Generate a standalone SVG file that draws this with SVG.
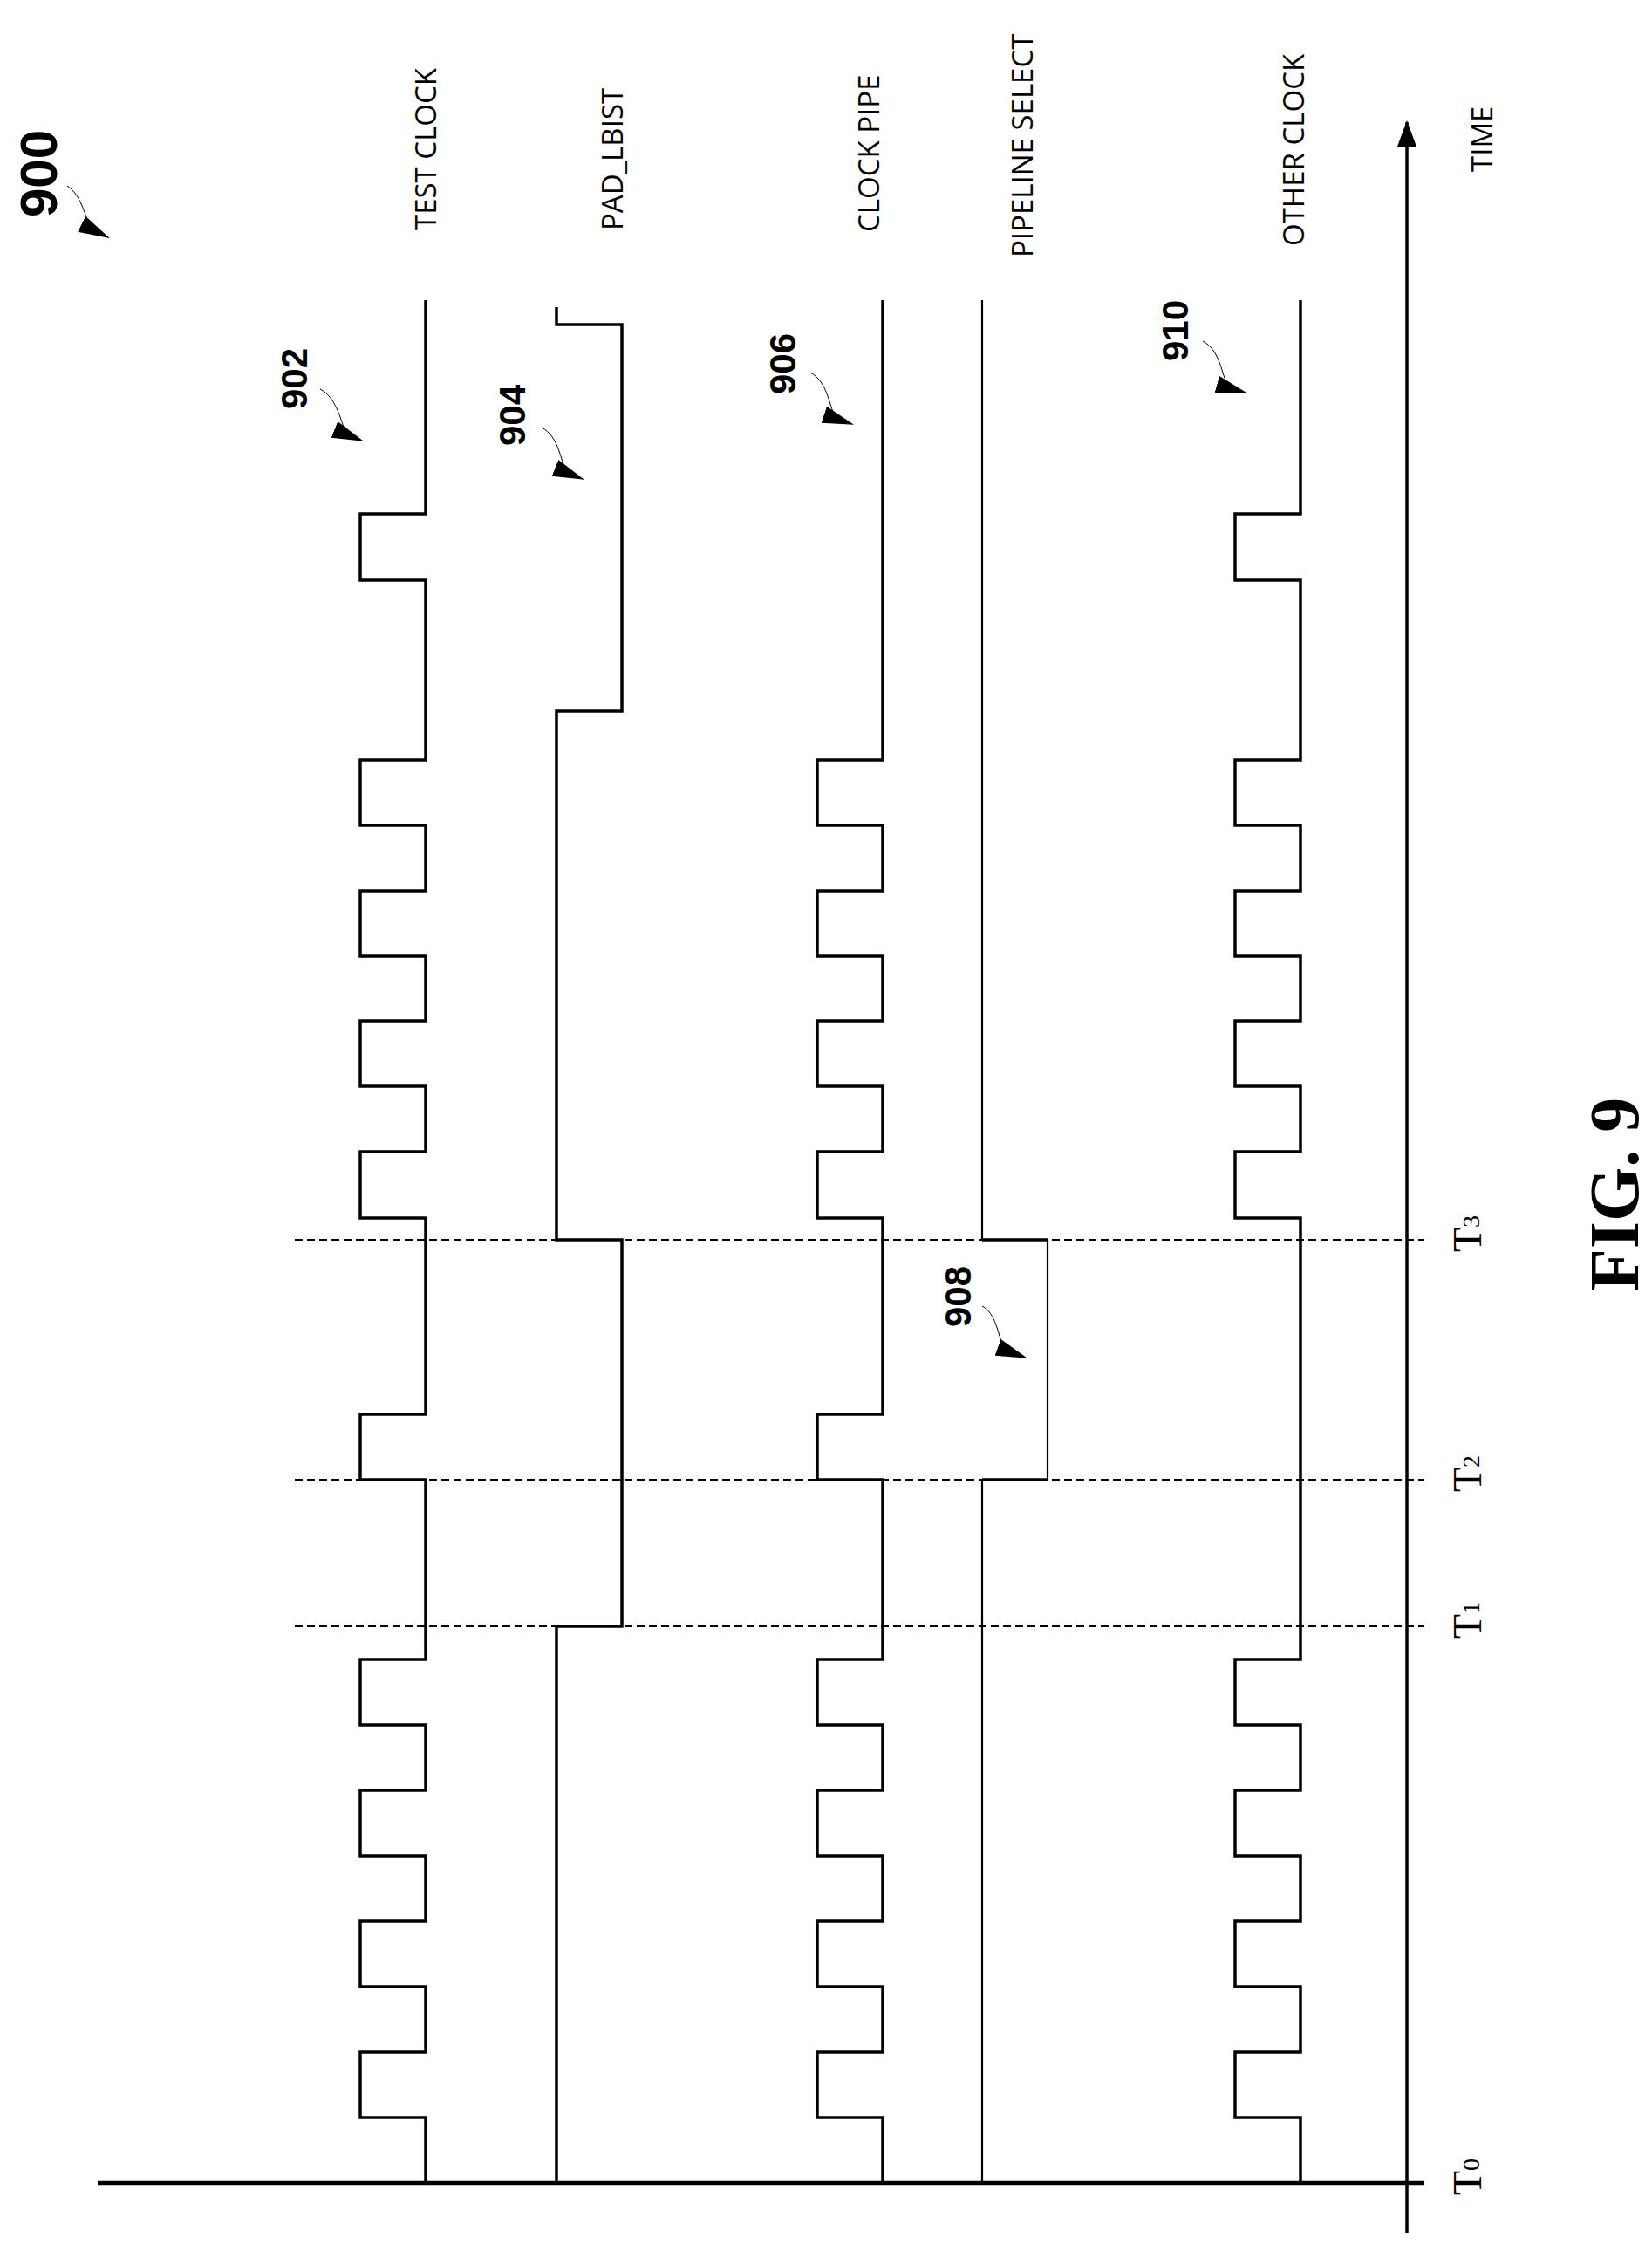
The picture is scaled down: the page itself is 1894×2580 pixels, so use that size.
<svg xmlns="http://www.w3.org/2000/svg" width="1894" height="2580" viewBox="0 0 1894 2580">
<style>
.sig{fill:none;stroke:#000;stroke-width:3.5}
.thin{fill:none;stroke:#000;stroke-width:2.2}
.dash{fill:none;stroke:#000;stroke-width:2;stroke-dasharray:9 5}
.lbl{font-family:"Open Sans","Liberation Sans",sans-serif;font-size:33px;fill:#000}
.ref{font-family:"Liberation Sans",Arial,sans-serif;font-size:42px;font-weight:bold;fill:#000}
.tl{font-family:"Liberation Serif","Times New Roman",serif;font-size:46px;fill:#000}
.lead{fill:none;stroke:#000;stroke-width:1}
</style>
<defs>
<marker id="ah" markerWidth="12" markerHeight="12" refX="10" refY="5" orient="auto" markerUnits="userSpaceOnUse" viewBox="0 0 12 10">
<path d="M0,0 L12,5 L0,10 z" fill="#000"/>
</marker>
<marker id="big" markerWidth="30" markerHeight="30" refX="28" refY="11" orient="auto" markerUnits="userSpaceOnUse" viewBox="0 0 30 22">
<path d="M0,0 L30,11 L0,22 z" fill="#000"/>
</marker>
<marker id="lah" markerWidth="36" markerHeight="24" refX="34" refY="10" orient="auto" markerUnits="userSpaceOnUse" viewBox="0 0 36 20">
<path d="M0,0 L36,10 L0,20 z" fill="#000"/>
</marker>
</defs>
<g id="connectors">
<line x1="112" y1="2502" x2="1633" y2="2502" stroke="#000" stroke-width="4.5"/>
<line x1="1613" y1="2559" x2="1613" y2="140" stroke="#000" stroke-width="3.5" marker-end="url(#big)"/>
<line class="dash" x1="338" y1="1864" x2="1633" y2="1864"/>
<line class="dash" x1="338" y1="1696" x2="1633" y2="1696"/>
<line class="dash" x1="338" y1="1421" x2="1633" y2="1421"/>
<path class="lead" d="M77,213 C95,225 97,250 105,262 C112,270 120,270 124,272" marker-end="url(#lah)"/>
<path class="lead" d="M367,446 C385,455 390,480 395,492 C402,502 410,503 415,505" marker-end="url(#lah)"/>
<path class="lead" d="M621,490 C640,500 642,525 648,537 C655,546 663,547 668,549" marker-end="url(#lah)"/>
<path class="lead" d="M929,427 C948,437 950,462 956,474 C963,483 971,484 977,486" marker-end="url(#lah)"/>
<path class="lead" d="M1379,391 C1398,401 1400,426 1406,438 C1413,447 1421,448 1428,450" marker-end="url(#lah)"/>
<path class="lead" d="M1126,1497 C1142,1505 1144,1530 1150,1542 C1157,1551 1165,1552 1176,1556" marker-end="url(#lah)"/>
</g>
<g id="test-clock">
<path class="sig" d="M488,344 V589 H413 V665 H488 V871 H413 V946 H488 V1021 H413 V1096 H488 V1170 H413 V1245 H488 V1320 H413 V1396 H488 V1621 H413 V1696 H488 V1902 H413 V1977 H488 V2052 H413 V2127 H488 V2202 H413 V2277 H488 V2352 H413 V2427 H488 V2502"/>
<text class="lbl" transform="translate(500,264) rotate(-90)">TEST CLOCK</text>
<text class="ref" transform="translate(352,469) rotate(-90)">902</text>
</g>
<g id="pad-lbist">
<path class="sig" d="M638,352 V372 H713 V815 H638 V1421 H713 V1864 H638 V2502"/>
<text class="lbl" transform="translate(714,264) rotate(-90)">PAD_LBIST</text>
<text class="ref" transform="translate(602,511) rotate(-90)">904</text>
</g>
<g id="clock-pipe">
<path class="sig" d="M1012,344 V871 H937 V946 H1012 V1021 H937 V1096 H1012 V1170 H937 V1245 H1012 V1320 H937 V1396 H1012 V1621 H937 V1696 H1012 V1902 H937 V1977 H1012 V2052 H937 V2127 H1012 V2202 H937 V2277 H1012 V2352 H937 V2427 H1012 V2502"/>
<text class="lbl" transform="translate(1008,266) rotate(-90)">CLOCK PIPE</text>
<text class="ref" transform="translate(912,452) rotate(-90)">906</text>
</g>
<g id="pipeline-select">
<path class="thin" d="M1126,344 V1421 H1201 V1696 H1126 V2502"/>
<path d="M1126,1421 H1201 M1126,1696 H1201" stroke="#000" stroke-width="3.5"/>
<text class="lbl" transform="translate(1184,295) rotate(-90)">PIPELINE SELECT</text>
<text class="ref" transform="translate(1113,1521) rotate(-90)">908</text>
</g>
<g id="other-clock">
<path class="sig" d="M1491,344 V589 H1416 V665 H1491 V871 H1416 V946 H1491 V1021 H1416 V1096 H1491 V1170 H1416 V1245 H1491 V1320 H1416 V1396 H1491 V1902 H1416 V1977 H1491 V2052 H1416 V2127 H1491 V2202 H1416 V2277 H1491 V2352 H1416 V2427 H1491 V2502"/>
<text class="lbl" transform="translate(1495,282) rotate(-90)">OTHER CLOCK</text>
<text class="ref" transform="translate(1362,414) rotate(-90)">910</text>
</g>
<g id="labels">
<text class="ref" style="font-size:60px" transform="translate(65,249) rotate(-90)">900</text>
<text class="lbl" transform="translate(1711,197) rotate(-90)">TIME</text>
<text class="tl" transform="translate(1698,2516) rotate(-90)">T<tspan font-size="28" dy="-2">0</tspan></text>
<text class="tl" transform="translate(1698,1878) rotate(-90)">T<tspan font-size="28" dy="-2">1</tspan></text>
<text class="tl" transform="translate(1698,1710) rotate(-90)">T<tspan font-size="28" dy="-2">2</tspan></text>
<text class="tl" transform="translate(1698,1435) rotate(-90)">T<tspan font-size="28" dy="-2">3</tspan></text>
<text class="tl" style="font-size:80px;font-weight:bold" transform="translate(1878,1480) rotate(-90)">FIG. 9</text>
</g>
</svg>
